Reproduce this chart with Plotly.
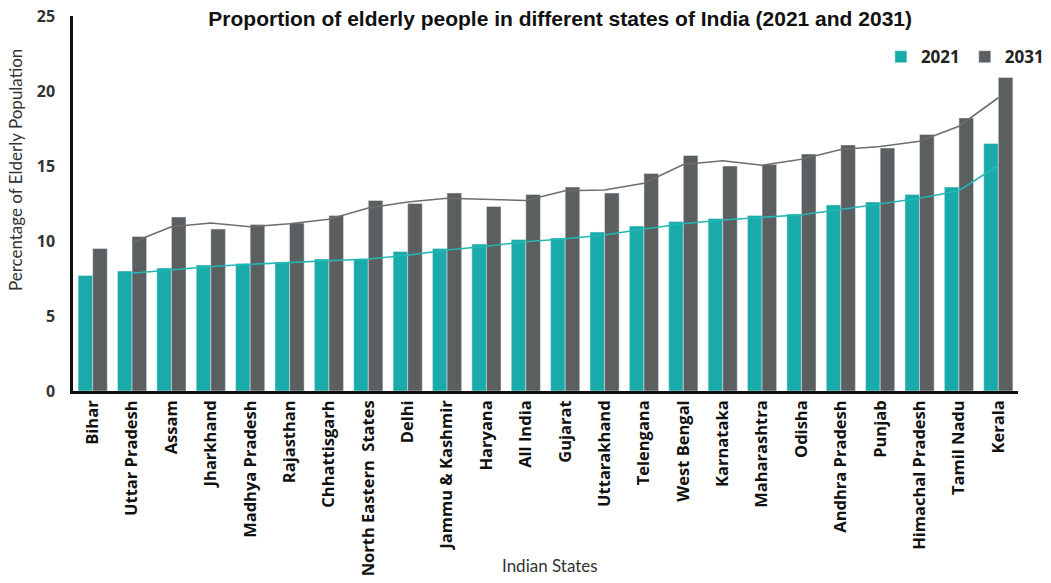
import plotly.graph_objects as go
import pandas as pd

states = ["Bihar", "Uttar Pradesh", "Assam", "Jharkhand", "Madhya Pradesh", "Rajasthan",
          "Chhattisgarh", "North Eastern  States", "Delhi", "Jammu & Kashmir", "Haryana",
          "All India", "Gujarat", "Uttarakhand", "Telengana", "West Bengal", "Karnataka",
          "Maharashtra", "Odisha", "Andhra Pradesh", "Punjab", "Himachal Pradesh",
          "Tamil Nadu", "Kerala"]
y2021 = [7.7, 8.0, 8.2, 8.4, 8.5, 8.6, 8.8, 8.8, 9.3, 9.5, 9.8, 10.1, 10.2, 10.6,
         11.0, 11.3, 11.5, 11.7, 11.8, 12.4, 12.6, 13.1, 13.6, 16.5]
y2031 = [9.5, 10.3, 11.6, 10.8, 11.1, 11.2, 11.7, 12.7, 12.5, 13.2, 12.3, 13.1, 13.6,
         13.2, 14.5, 15.7, 15.0, 15.1, 15.8, 16.4, 16.2, 17.1, 18.2, 20.9]
years = ["2021", "2031"]

TEAL = "#18aba9"
GRAY = "#5b5f5f"

ma2021 = pd.Series(y2021).rolling(2).mean()
ma2031 = pd.Series(y2031).rolling(2).mean()

fig = go.Figure()
fig.add_bar(x=states, y=y2021, name="<b>" + years[0] + "</b>", marker_color=TEAL)
fig.add_bar(x=states, y=y2031, name="<b>" + years[1] + "</b>", marker_color=GRAY)
fig.add_scatter(x=states[1:], y=list(ma2021[1:]), mode="lines",
                line=dict(color="#22b8b6", width=1.6), showlegend=False)
fig.add_scatter(x=states[1:], y=list(ma2031[1:]), mode="lines",
                line=dict(color="#6e6e6e", width=1.6), showlegend=False)

fig.update_layout(
    width=1051, height=583,
    margin=dict(l=73, r=33, t=16, b=192, autoexpand=False),
    plot_bgcolor="white", paper_bgcolor="white",
    barmode="group", bargap=0.26, bargroupgap=0.0,
    title=dict(text="<b>Proportion of elderly people in different states of India (2021 and 2031)</b>",
               x=0.533, xanchor="center", y=0.968, yanchor="middle",
               font=dict(family="Liberation Sans, Arial", size=21, color="#111111")),
    legend=dict(orientation="h", xref="container", yref="container",
                x=0.998, xanchor="right", y=0.902, yanchor="middle",
                font=dict(family="Open Sans", size=17, color="#222222"),
                itemwidth=30, traceorder="normal", bgcolor="rgba(0,0,0,0)"),
    font=dict(family="Open Sans"),
    annotations=[
        dict(text="Indian States", xref="paper", yref="paper", x=0.505, y=-0.465,
             xanchor="center", yanchor="middle", showarrow=False,
             font=dict(family="Lato", size=17, color="#333333")),
        dict(text="Percentage of Elderly Population", xref="paper", yref="paper",
             x=-0.061, y=0.59, xanchor="center", yanchor="middle", textangle=-90,
             showarrow=False, font=dict(family="Lato", size=17, color="#333333")),
    ],
)
fig.update_xaxes(
    tickangle=-90, showline=True, linecolor="#111111", linewidth=2.5,
    tickmode="array", tickvals=states, ticktext=["<b>" + s + "</b>" for s in states],
    tickfont=dict(family="Open Sans", size=16.5, color="#111111"),
    ticks="", automargin=False,
)
fig.update_yaxes(
    range=[0, 25], dtick=5, showgrid=False, zeroline=False,
    showline=True, linecolor="#111111", linewidth=2.5,
    tickfont=dict(family="Open Sans", size=16, color="#333333", weight=700),
    ticklabelstandoff=12, automargin=False,
)
fig.write_html("out.html")
